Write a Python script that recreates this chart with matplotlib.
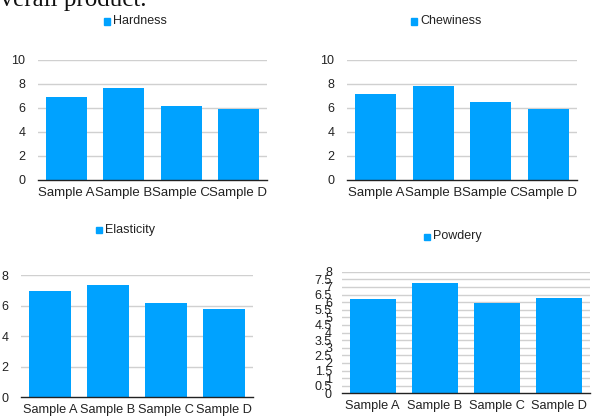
import matplotlib
matplotlib.use("Agg")
import matplotlib.pyplot as plt
import numpy as np
from matplotlib.patches import Rectangle

# Valores de cada atributo por muestra
samples = ["Sample A", "Sample B", "Sample C", "Sample D"]
hardness = [6.9, 7.7, 6.15, 5.9]
chewiness = [7.2, 7.8, 6.5, 5.9]
elasticity = [7.0, 7.35, 6.2, 5.8]
powdery = [6.2, 7.26, 5.94, 6.29]

hardness_ticks = [0, 2, 4, 6, 8, 10]
chewiness_ticks = [0, 2, 4, 6, 8, 10]
elasticity_ticks = [0, 2, 4, 6, 8]
powdery_ticks = [0, 0.5, 1, 1.5, 2, 2.5, 3, 3.5, 4, 4.5, 5, 5.5, 6, 6.5, 7, 7.5, 8]

W, H = 592, 417
BAR = "#00A2FF"
GRID = "#D0D0D0"
TXT = "#222222"
plt.rcParams["font.family"] = ["Liberation Sans", "DejaVu Sans"]

fig = plt.figure(figsize=(W / 100, H / 100), dpi=100)


def px_axes(x0, x1, ytop, ybot):
    return fig.add_axes([x0 / W, 1 - ybot / H, (x1 - x0) / W, (ybot - ytop) / H])


def panel(ax, valores, ticks, ymax, width, xsize, ysize, pad):
    x = np.arange(len(samples))
    ax.bar(x, valores, width=width, color=BAR, zorder=3)
    ax.set_xlim(-0.5, len(samples) - 0.5)
    ax.set_ylim(0, ymax)
    ax.set_yticks(ticks)
    ax.set_yticklabels([f"{t:g}" for t in ticks])
    ax.set_xticks(x)
    ax.set_xticklabels(samples)
    for t in ticks:
        if t > 0:
            ax.axhline(t, color=GRID, lw=1, zorder=1)
    for s in ["top", "right", "left"]:
        ax.spines[s].set_visible(False)
    ax.spines["bottom"].set_color("#222222")
    ax.spines["bottom"].set_linewidth(1)
    ax.spines["bottom"].set_zorder(4)
    ax.tick_params(axis="y", length=0, pad=pad, labelsize=ysize, labelcolor=TXT)
    ax.tick_params(axis="x", length=0, pad=5, labelsize=xsize, labelcolor=TXT)
    ax.set_facecolor("none")


def leyenda(x, y, texto):
    fig.patches.append(Rectangle((x / W, 1 - (y + 3) / H), 6 / W, 6 / H,
                                 transform=fig.transFigure, color=BAR))
    fig.text((x + 9.5) / W, 1 - y / H, texto, fontsize=9, color=TXT,
             ha="left", va="center")


ax1 = px_axes(38, 267, 60, 180)
panel(ax1, hardness, hardness_ticks, 10, 0.72, 9.5, 9, 9)
ax2 = px_axes(347, 577, 60, 180)
panel(ax2, chewiness, chewiness_ticks, 10, 0.72, 9.5, 9, 9)
ax3 = px_axes(21, 253, 275.3, 397.3)
panel(ax3, elasticity, elasticity_ticks, 8, 0.72, 9.2, 9, 9)
ax4 = px_axes(341.7, 590, 271.7, 393.3)
panel(ax4, powdery, powdery_ticks, 8, 0.74, 9.2, 9, 7)

leyenda(104, 21.5, "Hardness")
leyenda(411, 21.5, "Chewiness")
leyenda(96, 229.5, "Elasticity")
leyenda(424, 236.5, "Powdery")

# Texto del documento que queda por encima de los gráficos
fig.text(147 / W, 1 - 6 / H, "overall product.", ha="right", va="baseline",
         fontsize=18, family="Liberation Serif", color="#111111")

fig.savefig("out.png", dpi=100, facecolor="white")
